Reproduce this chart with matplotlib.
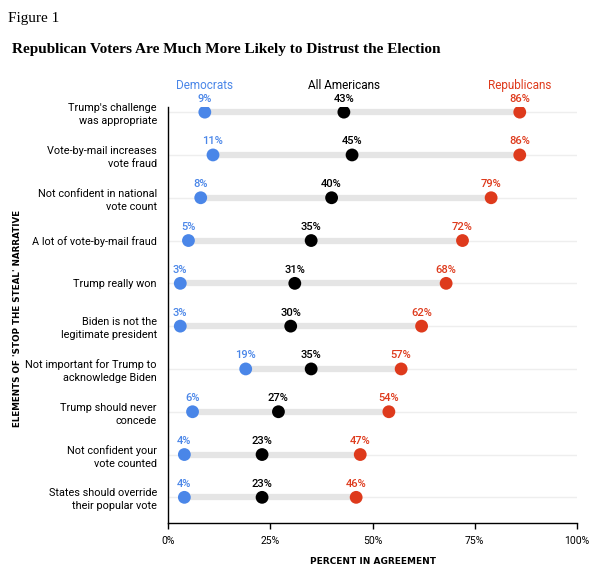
import matplotlib.pyplot as plt

items = ["Trump's challenge\nwas appropriate",
         "Vote-by-mail increases\nvote fraud",
         "Not confident in national\nvote count",
         "A lot of vote-by-mail fraud",
         "Trump really won",
         "Biden is not the\nlegitimate president",
         "Not important for Trump to\nacknowledge Biden",
         "Trump should never\nconcede",
         "Not confident your\nvote counted",
         "States should override\ntheir popular vote"]
dems = [9, 11, 8, 5, 3, 3, 19, 6, 4, 4]
all_am = [43, 45, 40, 35, 31, 30, 35, 27, 23, 23]
reps = [86, 86, 79, 72, 68, 62, 57, 54, 47, 46]

blue = "#4a86e8"
red = "#de3a1c"
black = "#000000"

plt.rcParams['font.family'] = ['Roboto', 'DejaVu Sans']

fig = plt.figure(figsize=(6, 5.68), dpi=100)
ax = fig.add_axes([0.28, 0.0792, 0.6817, 0.7324])

for i in range(len(items)):
    ax.plot([0, 100], [i, i], color="#eeeeee", lw=1, zorder=1)
    lo = min(dems[i], all_am[i], reps[i])
    hi = max(dems[i], all_am[i], reps[i])
    ax.plot([lo, hi], [i, i], color="#e5e5e5", lw=4.5, zorder=2, solid_capstyle='butt')
    for vals, c in [(dems, blue), (all_am, black), (reps, red)]:
        ax.scatter(vals[i], i, s=85, color=c, zorder=3, edgecolors='none')
        ax.text(vals[i], i - 0.2, f"{vals[i]}%", color=c, ha='center', va='bottom',
                fontsize=8, fontweight='medium')

ax.text(dems[0], -0.47, "Democrats", color=blue, ha='center', va='bottom', fontsize=8.5)
ax.text(all_am[0], -0.47, "All Americans", color=black, ha='center', va='bottom', fontsize=8.5)
ax.text(reps[0], -0.47, "Republicans", color=red, ha='center', va='bottom', fontsize=8.5)

ax.set_xlim(0, 100)
ax.set_ylim(9.6, -0.12)
ax.set_xticks([0, 25, 50, 75, 100])
ax.set_xticklabels(["0%", "25%", "50%", "75%", "100%"], fontsize=7.5)
ax.set_yticks(range(len(items)))
ax.set_yticklabels(items, fontsize=7.8, linespacing=1.35)
ax.tick_params(axis='y', length=0, pad=8)
ax.tick_params(axis='x', length=4, width=1, pad=5)
for s in ['top', 'right']:
    ax.spines[s].set_visible(False)
ax.spines['left'].set_linewidth(1)
ax.spines['bottom'].set_linewidth(1)

ax.set_xlabel("PERCENT IN AGREEMENT", fontsize=6.5, fontweight='bold', labelpad=8,
              family='DejaVu Sans')
fig.text(0.03, 0.44, "ELEMENTS OF 'STOP THE STEAL' NARRATIVE", rotation=90,
         fontsize=6.3, fontweight='bold', ha='center', va='center', family='DejaVu Sans')

fig.text(0.014, 0.968, "Figure 1", fontsize=11, family='Liberation Serif', va='center')
fig.text(0.02, 0.913, "Republican Voters Are Much More Likely to Distrust the Election",
         fontsize=11, family='Liberation Serif', fontweight='bold', va='center')

fig.savefig("out.png", dpi=100)
